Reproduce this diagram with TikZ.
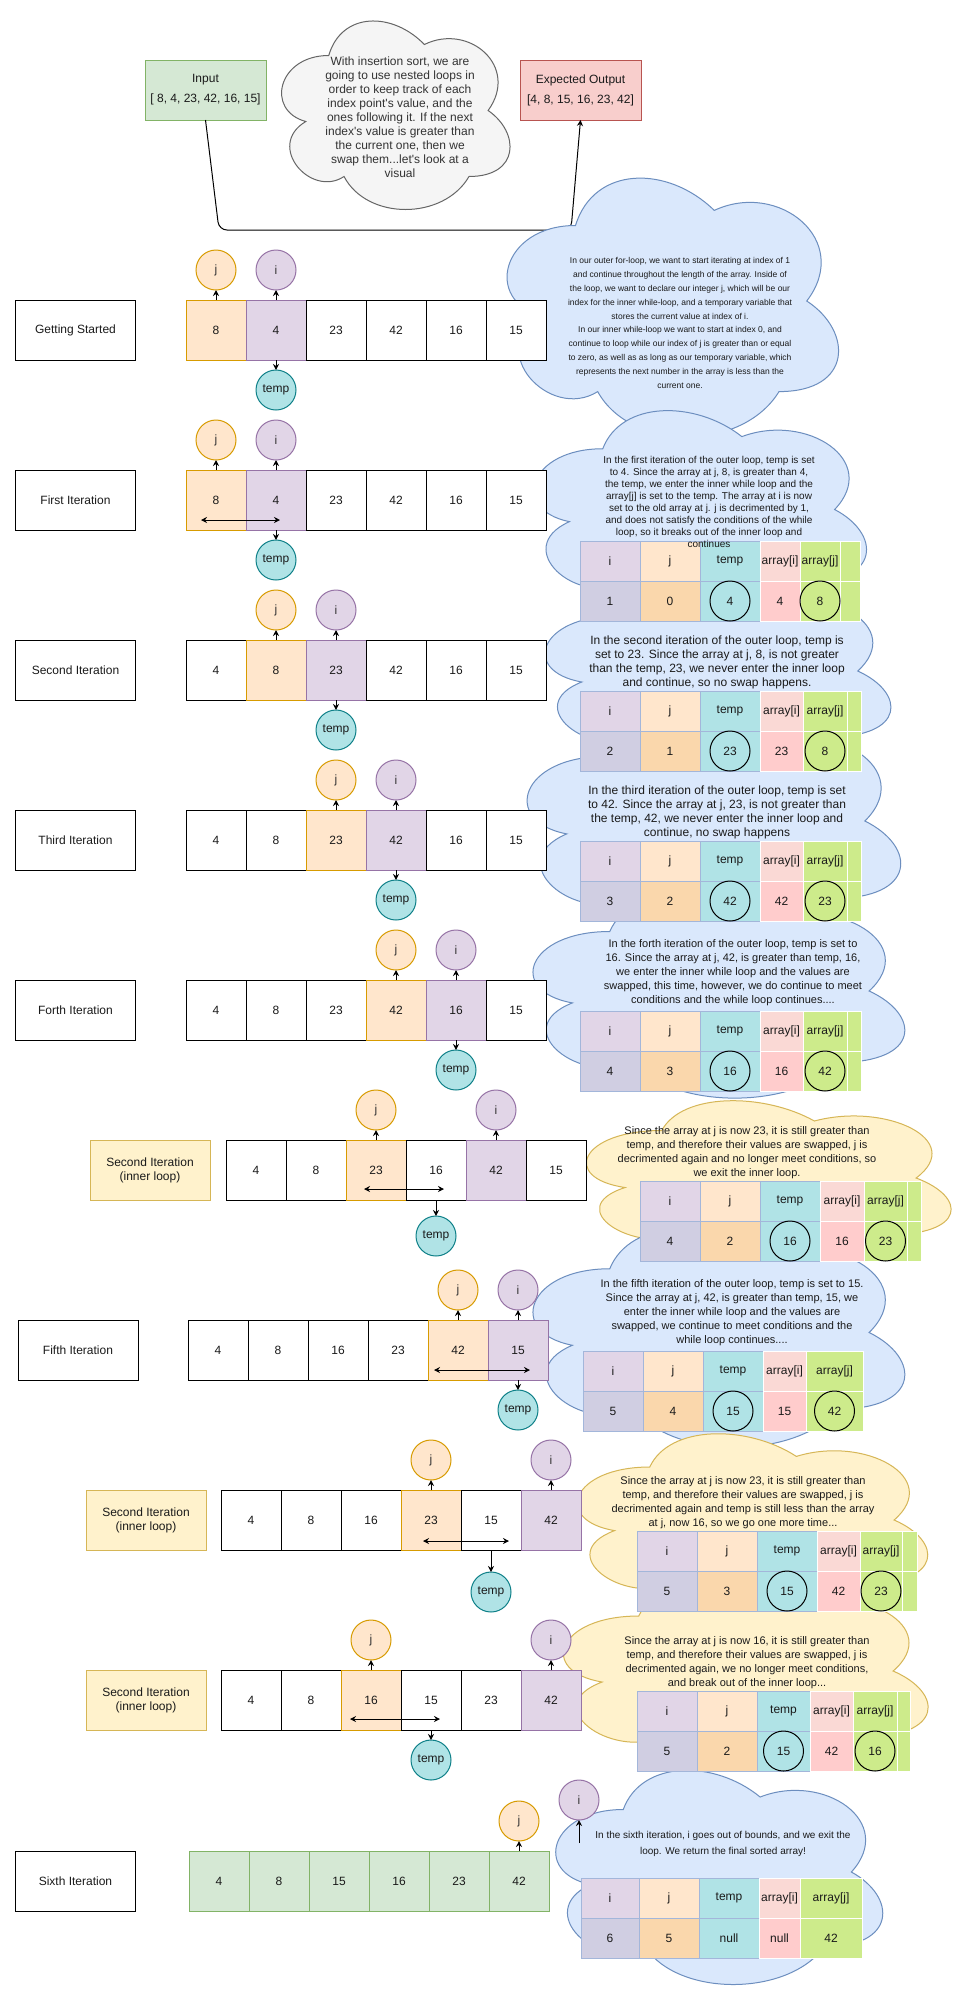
\documentclass[tikz,border=0pt]{standalone}
\usepackage{fontspec}
\setmainfont{Liberation Sans}
\usetikzlibrary{arrows.meta,positioning}
\definecolor{cOr}{HTML}{FFE6CC}
\definecolor{lOr}{HTML}{D79B00}
\definecolor{cPu}{HTML}{E1D5E7}
\definecolor{lPu}{HTML}{9673A6}
\definecolor{cTe}{HTML}{B0E3E6}
\definecolor{lTe}{HTML}{0E8088}
\definecolor{cGr}{HTML}{D5E8D4}
\definecolor{lGr}{HTML}{82B366}
\definecolor{cRe}{HTML}{F8CECC}
\definecolor{lRe}{HTML}{B85450}
\definecolor{cBl}{HTML}{DAE8FC}
\definecolor{lBl}{HTML}{6C8EBF}
\definecolor{cYe}{HTML}{FFF2CC}
\definecolor{lYe}{HTML}{D6B656}
\definecolor{cGy}{HTML}{F5F5F5}
\definecolor{lGy}{HTML}{666666}
\definecolor{tIv}{HTML}{D0CEE2}
\definecolor{tJv}{HTML}{FAD7AC}
\definecolor{tAIh}{HTML}{FAD9D5}
\definecolor{tAIv}{HTML}{FFCCCC}
\definecolor{tAJ}{HTML}{CDEB8B}
\definecolor{tBd}{HTML}{A3B6DA}
\definecolor{txt}{HTML}{1A1A1A}
\definecolor{txg}{HTML}{333333}
\newcommand\fA{\fontsize{12pt}{14pt}\selectfont}
\newcommand\fB{\fontsize{11pt}{14pt}\selectfont}
\newcommand\fC{\fontsize{10pt}{12pt}\selectfont}
\newcommand\fD{\fontsize{8.5pt}{13.9pt}\selectfont}
\newcommand\fE{\fontsize{10pt}{16pt}\selectfont}
\newcommand\drawcloud[5]{%
\draw[#1] (#2+0.25*#4, #3+0.25*#5) .. controls (#2+0.05*#4, #3+0.25*#5) and (#2, #3+0.5*#5) .. (#2+0.16*#4, #3+0.55*#5)
 .. controls (#2, #3+0.66*#5) and (#2+0.18*#4, #3+0.9*#5) .. (#2+0.31*#4, #3+0.8*#5)
 .. controls (#2+0.4*#4, #3+#5) and (#2+0.7*#4, #3+#5) .. (#2+0.8*#4, #3+0.8*#5)
 .. controls (#2+#4, #3+0.8*#5) and (#2+#4, #3+0.6*#5) .. (#2+0.875*#4, #3+0.5*#5)
 .. controls (#2+#4, #3+0.3*#5) and (#2+0.8*#4, #3+0.1*#5) .. (#2+0.625*#4, #3+0.2*#5)
 .. controls (#2+0.5*#4, #3+0.05*#5) and (#2+0.3*#4, #3+0.05*#5) .. (#2+0.25*#4, #3+0.25*#5) -- cycle;}
\newcommand\mktab[4]{%
 \foreach \hd/\hst [count=\k] in {i/hi,j/hj,temp/ht,{array[i]}/hai,{array[j]}/haj}{%
   \pgfmathtruncatemacro\km{\k-1}%
   \pgfmathsetmacro\xl{{#2}[\km]}%
   \pgfmathsetmacro\xr{{#2}[\k]}%
   \node[tcell,\hst,minimum width=\xr-\xl] (#1h\k) at ({(\xl+\xr)/2},{#3+20}) {\hd};
 }%
 \foreach \v/\vst [count=\k] in {#4}{%
   \pgfmathtruncatemacro\km{\k-1}%
   \pgfmathsetmacro\xl{{#2}[\km]}%
   \pgfmathsetmacro\xr{{#2}[\k]}%
   \node[tcell,\vst,minimum width=\xr-\xl] (#1v\k) at ({(\xl+\xr)/2},{#3+60}) {\v};
 }%
}
\newcommand\mkextra[4]{%
 \node[tcell,haj,minimum width=#3-#2] (#1hx) at ({(#2+#3)/2},{#4+20}) {};
 \node[tcell,vaj,minimum width=#3-#2] (#1vx) at ({(#2+#3)/2},{#4+60}) {};
}
\newcommand\tcirc[1]{%
 \node[vcirc] (#1o3) at (#1v3) {};
 \node[vcirc] (#1o5) at (#1v5) {};
}
\newcommand\mkrow[4]{%
 \foreach \v/\cst [count=\k] in {#4}{%
   \node[cell,\cst] (#1c\k) at ({#2+30+60*(\k-1)},{#3+30}) {\v};
 }%
}
\begin{document}
\begin{tikzpicture}[x=1pt,y=-1pt,
 every node/.style={text=txt},
 cell/.style={rectangle,draw=black,fill=white,line width=1pt,minimum width=60pt,minimum height=60pt,inner sep=0pt,outer sep=0pt,font=\fA},
 wc/.style={}, oc/.style={fill=cOr,draw=lOr}, pc/.style={fill=cPu,draw=lPu}, gc/.style={fill=cGr,draw=lGr},
 lbl/.style={rectangle,draw=black,fill=white,line width=1pt,minimum width=120pt,minimum height=60pt,inner sep=0pt,outer sep=0pt,font=\fA,align=center},
 ylbl/.style={lbl,fill=cYe,draw=lYe},
 circ/.style={circle,line width=1pt,minimum size=40pt,inner sep=0pt,outer sep=0pt,font=\fA},
 jst/.style={circ,fill=cOr,draw=lOr,text=txg},
 ist/.style={circ,fill=cPu,draw=lPu,text=txg},
 tst/.style={circ,fill=cTe,draw=lTe},
 arr/.style={line width=1pt,-{Stealth[length=6pt,width=6pt]}},
 darr/.style={line width=1pt,{Stealth[length=6pt,width=6pt]}-{Stealth[length=6pt,width=6pt]}},
 tcell/.style={rectangle,inner sep=0pt,outer sep=0pt,minimum height=40pt,line width=0.8pt,font=\fA},
 hi/.style={fill=cPu,draw=tBd}, vi/.style={fill=tIv,draw=tBd},
 hj/.style={fill=cOr,draw=tBd}, vj/.style={fill=tJv,draw=tBd},
 ht/.style={fill=cTe,draw=tBd}, vt/.style={fill=cTe,draw=tBd},
 hai/.style={fill=tAIh,draw=white}, vai/.style={fill=tAIv,draw=white},
 haj/.style={fill=tAJ,draw=white}, vaj/.style={fill=tAJ,draw=white},
 vcirc/.style={circle,draw=black,line width=1pt,minimum size=40pt,inner sep=0pt},
 cblue/.style={fill=cBl,draw=lBl,line width=1pt},
 cyel/.style={fill=cYe,draw=lYe,line width=1pt},
 cgray/.style={fill=cGy,draw=lGy,line width=1pt},
 ctext/.style={align=center,inner sep=0pt}]
\useasboundingbox (0,0) rectangle (966,2011);
\fill[white] (0,0) rectangle (966,2011);

% top boxes and connector
\node[lbl,fill=cGr,draw=lGr,minimum width=121pt] (inp) at (205.5,90) {Input\\[6pt]{[} 8, 4, 23, 42, 16, 15]};
\node[lbl,fill=cRe,draw=lRe,minimum width=121pt] (out) at (580.5,90) {Expected Output\\[6pt]{[}4, 8, 15, 16, 23, 42]};
\draw[arr,rounded corners=8pt] (inp.south) -- (219,230) -- (571,230) -- (out.south);

% clouds
\drawcloud{cgray}{265}{0.5}{255}{220}
\drawcloud{cblue}{483}{150}{370}{302}
\drawcloud{cblue}{510}{388}{371}{243}
\drawcloud{cblue}{520}{561}{386}{220}
\drawcloud{cblue}{500}{692}{417}{258}
\drawcloud{cblue}{506}{872}{415}{238}
\drawcloud{cyel}{560}{1083}{407}{190}
\drawcloud{cblue}{506}{1205}{415}{255}
\drawcloud{cyel}{552}{1414}{391}{212}
\drawcloud{cyel}{537}{1561}{407}{220}
\drawcloud{cblue}{532}{1747}{365}{250}

% tables
\mktab{tb2}{580,640,700,760,800,840}{541}{1/vi,0/vj,4/vt,4/vai,8/vaj}
\mkextra{tb2}{840}{860}{541}\tcirc{tb2}
\mktab{tb3}{580,640,700,760,803,847}{691}{2/vi,1/vj,23/vt,23/vai,8/vaj}
\mkextra{tb3}{847}{861}{691}\tcirc{tb3}
\mktab{tb4}{580,640,700,760,803,847}{841}{3/vi,2/vj,42/vt,42/vai,23/vaj}
\mkextra{tb4}{847}{861}{841}\tcirc{tb4}
\mktab{tb5}{580,640,700,760,803,847}{1011}{4/vi,3/vj,16/vt,16/vai,42/vaj}
\mkextra{tb5}{847}{861}{1011}\tcirc{tb5}
\mktab{tb6}{640,700,760,820,864,907}{1181}{4/vi,2/vj,16/vt,16/vai,23/vaj}
\mkextra{tb6}{907}{921}{1181}\tcirc{tb6}
\mktab{tb7}{583,643,703,763,806,863}{1351}{5/vi,4/vj,15/vt,15/vai,42/vaj}
\tcirc{tb7}
\mktab{tb8}{637,697,757,817,860,902}{1531}{5/vi,3/vj,15/vt,42/vai,23/vaj}
\mkextra{tb8}{902}{917}{1531}\tcirc{tb8}
\mktab{tb9}{637,697,757,810,853,897}{1691}{5/vi,2/vj,15/vt,42/vai,16/vaj}
\mkextra{tb9}{897}{910}{1691}\tcirc{tb9}
\mktab{tb10}{581,639,699,759,800,862}{1878}{6/vi,5/vj,null/vt,null/vai,42/vaj}

% cloud texts
\node[ctext,font=\fA,text=txg] (gtx) at (400,117) {With insertion sort, we are\\going to use nested loops in\\order to keep track of each\\index point\textquotesingle s value, and the\\ones following it. If the next\\index\textquotesingle s value is greater than\\the current one, then we\\swap them...let\textquotesingle s look at a\\visual};
\node[ctext,font=\fD] (ct1) at (680,323) {In our outer for-loop, we want to start iterating at index of 1\\and continue throughout the length of the array. Inside of\\the loop, we want to declare our integer j, which will be our\\index for the inner while-loop, and a temporary variable that\\stores the current value at index of i.\\In our inner while-loop we want to start at index 0, and\\continue to loop while our index of j is greater than or equal\\to zero, as well as as long as our temporary variable, which\\represents the next number in the array is less than the\\current one.};
\node[ctext,font=\fC] (ct2) at (709,502) {In the first iteration of the outer loop, temp is set\\to 4. Since the array at j, 8, is greater than 4,\\the temp, we enter the inner while loop and the\\array[j] is set to the temp. The array at i is now\\set to the old array at j. j is decrimented by 1,\\and does not satisfy the conditions of the while\\loop, so it breaks out of the inner loop and\\continues};
\node[ctext,font=\fA] (ct3) at (717,662) {In the second iteration of the outer loop, temp is\\set to 23. Since the array at j, 8, is not greater\\than the temp, 23, we never enter the inner loop\\and continue, so no swap happens.};
\node[ctext,font=\fA] (ct4) at (717,812) {In the third iteration of the outer loop, temp is set\\to 42. Since the array at j, 23, is not greater than\\the temp, 42, we never enter the inner loop and\\continue, no swap happens};
\node[ctext,font=\fB] (ct5) at (733,973) {In the forth iteration of the outer loop, temp is set to\\16. Since the array at j, 42, is greater than temp, 16,\\we enter the inner while loop and the values are\\swapped, this time, however, we do continue to meet\\conditions and the while loop continues....};
\node[ctext,font=\fB] (ct6) at (747,1153) {Since the array at j is now 23, it is still greater than\\temp, and therefore their values are swapped, j is\\decrimented again and no longer meet conditions, so\\we exit the inner loop.};
\node[ctext,font=\fB] (ct7) at (732,1313) {In the fifth iteration of the outer loop, temp is set to 15.\\Since the array at j, 42, is greater than temp, 15, we\\enter the inner while loop and the values are\\swapped, we continue to meet conditions and the\\while loop continues....};
\node[ctext,font=\fB] (ct8) at (743,1503) {Since the array at j is now 23, it is still greater than\\temp, and therefore their values are swapped, j is\\decrimented again and temp is still less than the array\\at j, now 16, so we go one more time...};
\node[ctext,font=\fB] (ct9) at (747,1663) {Since the array at j is now 16, it is still greater than\\temp, and therefore their values are swapped, j is\\decrimented again, we no longer meet conditions,\\and break out of the inner loop...};
\node[ctext,font=\fE] (ct10) at (723,1844) {In the sixth iteration, i goes out of bounds, and we exit the\\loop. We return the final sorted array!};

% label boxes
\node[lbl] (l0) at (75.5,330) {Getting Started};
\node[lbl] (l1) at (75.5,500) {First Iteration};
\node[lbl] (l2) at (75.5,670) {Second Iteration};
\node[lbl] (l3) at (75.5,840) {Third Iteration};
\node[lbl] (l4) at (75.5,1010) {Forth Iteration};
\node[ylbl] (l5) at (150,1170) {Second Iteration\\(inner loop)};
\node[lbl] (l6) at (78,1350) {Fifth Iteration};
\node[ylbl] (l7) at (146,1520) {Second Iteration\\(inner loop)};
\node[ylbl] (l8) at (146,1700) {Second Iteration\\(inner loop)};
\node[lbl] (l9) at (75.5,1881) {Sixth Iteration};

% row 0
\mkrow{r0}{186}{300}{8/oc,4/pc,23/wc,42/wc,16/wc,15/wc}
\node[jst,above=10pt of r0c1] (r0j) {j};
\node[ist,above=10pt of r0c2] (r0i) {i};
\node[tst,below=10pt of r0c2] (r0t) {temp};
\draw[arr] (r0c1.north) -- (r0j.south);
\draw[arr] (r0c2.north) -- (r0i.south);
\draw[arr] (r0c2.south) -- (r0t.north);

% row 1
\mkrow{r1}{186}{470}{8/oc,4/pc,23/wc,42/wc,16/wc,15/wc}
\node[jst,above=10pt of r1c1] (r1j) {j};
\node[ist,above=10pt of r1c2] (r1i) {i};
\node[tst,below=10pt of r1c2] (r1t) {temp};
\draw[arr] (r1c1.north) -- (r1j.south);
\draw[arr] (r1c2.north) -- (r1i.south);
\draw[arr] (r1c2.south) -- (r1t.north);
\coordinate (r1a) at (201,520); \coordinate (r1b) at (280,520);
\draw[darr] (r1a) -- (r1b);

% row 2
\mkrow{r2}{186}{640}{4/wc,8/oc,23/pc,42/wc,16/wc,15/wc}
\node[jst,above=10pt of r2c2] (r2j) {j};
\node[ist,above=10pt of r2c3] (r2i) {i};
\node[tst,below=10pt of r2c3] (r2t) {temp};
\draw[arr] (r2c2.north) -- (r2j.south);
\draw[arr] (r2c3.north) -- (r2i.south);
\draw[arr] (r2c3.south) -- (r2t.north);

% row 3
\mkrow{r3}{186}{810}{4/wc,8/wc,23/oc,42/pc,16/wc,15/wc}
\node[jst,above=10pt of r3c3] (r3j) {j};
\node[ist,above=10pt of r3c4] (r3i) {i};
\node[tst,below=10pt of r3c4] (r3t) {temp};
\draw[arr] (r3c3.north) -- (r3j.south);
\draw[arr] (r3c4.north) -- (r3i.south);
\draw[arr] (r3c4.south) -- (r3t.north);

% row 4
\mkrow{r4}{186}{980}{4/wc,8/wc,23/wc,42/oc,16/pc,15/wc}
\node[jst,above=10pt of r4c4] (r4j) {j};
\node[ist,above=10pt of r4c5] (r4i) {i};
\node[tst,below=10pt of r4c5] (r4t) {temp};
\draw[arr] (r4c4.north) -- (r4j.south);
\draw[arr] (r4c5.north) -- (r4i.south);
\draw[arr] (r4c5.south) -- (r4t.north);

% row 5
\mkrow{r5}{226}{1140}{4/wc,8/wc,23/oc,16/wc,42/pc,15/wc}
\node[jst,above=10pt of r5c3] (r5j) {j};
\node[ist,above=10pt of r5c5] (r5i) {i};
\node[tst,below=16pt of r5c4] (r5t) {temp};
\draw[arr] (r5c3.north) -- (r5j.south);
\draw[arr] (r5c5.north) -- (r5i.south);
\draw[arr] (r5c4.south) -- (r5t.north);
\coordinate (r5a) at (364,1189); \coordinate (r5b) at (444,1189);
\draw[darr] (r5a) -- (r5b);

% row 6
\mkrow{r6}{188}{1320}{4/wc,8/wc,16/wc,23/wc,42/oc,15/pc}
\node[jst,above=10pt of r6c5] (r6j) {j};
\node[ist,above=10pt of r6c6] (r6i) {i};
\node[tst,below=10pt of r6c6] (r6t) {temp};
\draw[arr] (r6c5.north) -- (r6j.south);
\draw[arr] (r6c6.north) -- (r6i.south);
\draw[arr] (r6c6.south) -- (r6t.north);
\coordinate (r6a) at (434,1370); \coordinate (r6b) at (530,1370);
\draw[darr] (r6a) -- (r6b);

% row 7
\mkrow{r7}{221}{1490}{4/wc,8/wc,16/wc,23/oc,15/wc,42/pc}
\node[jst,above=10pt of r7c4] (r7j) {j};
\node[ist,above=10pt of r7c6] (r7i) {i};
\node[tst,below=22pt of r7c5] (r7t) {temp};
\draw[arr] (r7c4.north) -- (r7j.south);
\draw[arr] (r7c6.north) -- (r7i.south);
\draw[arr] (r7c5.south) -- (r7t.north);
\coordinate (r7a) at (423,1541); \coordinate (r7b) at (509,1541);
\draw[darr] (r7a) -- (r7b);

% row 8
\mkrow{r8}{221}{1670}{4/wc,8/wc,16/oc,15/wc,23/wc,42/pc}
\node[jst,above=10pt of r8c3] (r8j) {j};
\node[ist,above=10pt of r8c6] (r8i) {i};
\node[tst,below=10pt of r8c4] (r8t) {temp};
\draw[arr] (r8c3.north) -- (r8j.south);
\draw[arr] (r8c6.north) -- (r8i.south);
\draw[arr] (r8c4.south) -- (r8t.north);
\coordinate (r8a) at (350,1719); \coordinate (r8b) at (440,1719);
\draw[darr] (r8a) -- (r8b);

% row 9
\mkrow{r9}{189}{1851}{4/gc,8/gc,15/gc,16/gc,23/gc,42/gc}
\node[jst,above=10pt of r9c6] (r9j) {j};
\node[ist] (r9i) at (579,1800) {i};
\coordinate (r9p) at (579,1843);
\draw[arr] (r9c6.north) -- (r9j.south);
\draw[arr] (r9p) -- (r9i.south);
\end{tikzpicture}
\end{document}
